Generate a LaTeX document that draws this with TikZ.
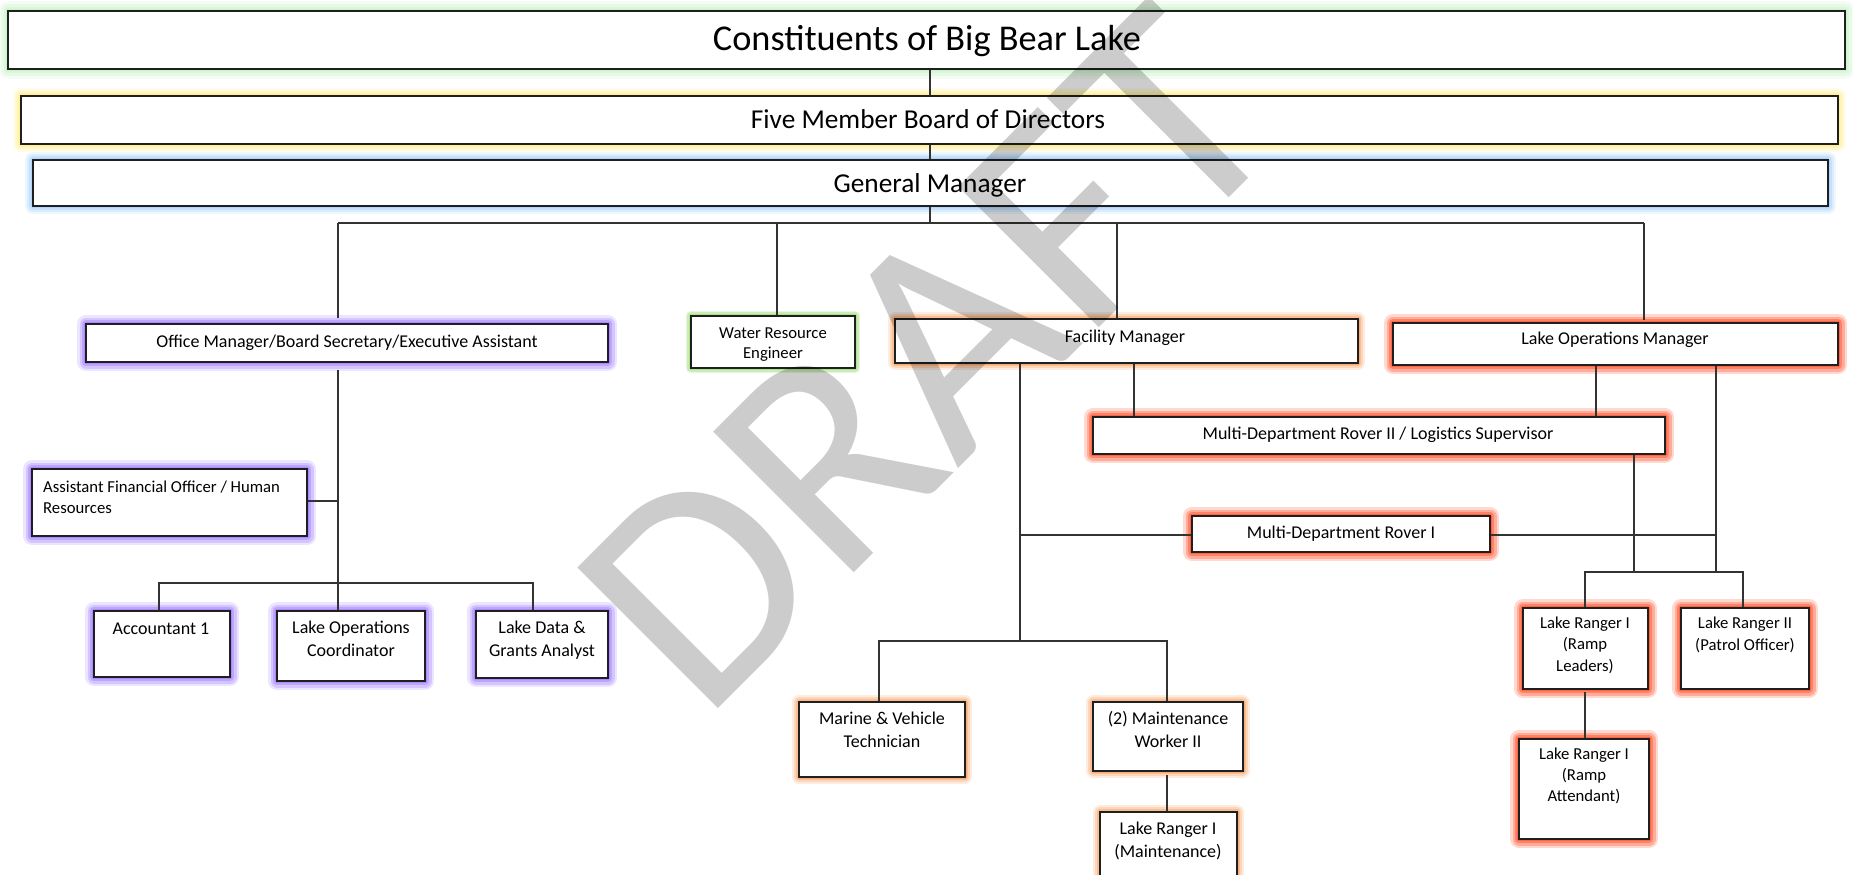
\documentclass[tikz,border=0pt]{standalone}
\usepackage{fontspec}
\setmainfont{Carlito}
\usetikzlibrary{fit}
\definecolor{ln}{HTML}{1F1F1F}
\definecolor{cn}{HTML}{333333}
\definecolor{gcons}{RGB}{185,240,185}
\definecolor{gboard}{RGB}{255,236,120}
\definecolor{ggm}{RGB}{150,200,250}
\definecolor{gpur}{RGB}{160,125,255}
\definecolor{gwat}{RGB}{140,215,100}
\definecolor{gora}{RGB}{250,160,95}
\definecolor{gred}{RGB}{255,90,55}
\tikzset{
  box/.style={draw=ln, line width=1.7pt, fill=white, inner sep=0pt, outer sep=0pt},
  conn/.style={draw=cn, line width=1.3pt},
  t18/.style={font=\fontsize{18}{22}\selectfont, anchor=base, inner sep=0pt},
  t17/.style={font=\fontsize{16.7}{20}\selectfont, anchor=base, inner sep=0pt},
}
% #1 width factor, #2 opacity factor, #3 colour, #4..#7 corners
\newcommand\glowrect[7]{%
  \foreach \w/\o in {18/0.16,13/0.24,8/0.36,4/0.5}{%
    \pgfmathsetmacro\glw{#1*\w}\pgfmathsetmacro\gop{min(1,#2*\o)}%
    \draw[#3, line width=\glw pt, opacity=\gop, line join=round] (#4,#5) rectangle (#6,#7);}%
}
\newcommand\mkbox[5]{%
  \coordinate (#1-nw) at (#2,#3); \coordinate (#1-se) at (#4,#5);
  \node[box, fit=(#1-nw)(#1-se)] (#1) {};%
}
\begin{document}
\begin{tikzpicture}[x=1pt,y=-1pt]
\path[use as bounding box] (0,0) rectangle (1853,875);
\clip (0,0) rectangle (1853,875);
\fill[white] (0,0) rectangle (1853,875);
% glows
\glowrect{1.1}{0.9}{gcons}{8}{11}{1845}{69}
\glowrect{0.9}{0.9}{gboard}{21}{96}{1838}{144}
\glowrect{0.9}{0.9}{ggm}{33}{160}{1828}{206}
\glowrect{1}{1.25}{gpur}{86}{324}{608}{362}
\glowrect{0.6}{1.3}{gwat}{691}{316}{855}{368}
\glowrect{0.75}{1.2}{gora}{895}{319}{1358}{363}
\glowrect{1}{1.45}{gred}{1393}{323}{1838}{365}
\glowrect{1}{1.25}{gpur}{32}{469}{307}{536}
\glowrect{1}{1.45}{gred}{1093}{417}{1665}{454}
\glowrect{1}{1.45}{gred}{1192}{516}{1490}{552}
\glowrect{1}{1.25}{gpur}{94}{611}{230}{677}
\glowrect{1}{1.25}{gpur}{277}{611}{425}{681}
\glowrect{1}{1.25}{gpur}{476}{611}{608}{678}
\glowrect{0.75}{1.2}{gora}{799}{702}{965}{777}
\glowrect{0.75}{1.2}{gora}{1093}{702}{1243}{771}
\glowrect{0.75}{1.2}{gora}{1100}{812}{1237}{895}
\glowrect{1}{1.45}{gred}{1523}{608}{1648}{689}
\glowrect{1}{1.45}{gred}{1681}{608}{1809}{689}
\glowrect{1}{1.45}{gred}{1519}{739}{1649}{839}
% junction coordinates
\coordinate (jtop) at (930,223);
\coordinate (jl) at (338,223);
\coordinate (jw) at (777,223);
\coordinate (jf) at (1117,223);
\coordinate (jr) at (1644,223);
\coordinate (jafo) at (338,501);
\coordinate (ja1) at (159,583);
\coordinate (ja3) at (533,583);
\coordinate (jf1) at (1020,641);
\coordinate (jm1) at (879,641);
\coordinate (jm2) at (1167,641);
\coordinate (fx2) at (1134,390);
\coordinate (jrv1) at (1020,535);
\coordinate (jrv1r) at (1716,535);
\coordinate (lx1) at (1596,390);
\coordinate (jrr) at (1716,572);
\coordinate (jrv2) at (1634,572);
\coordinate (jk1) at (1585,572);
\coordinate (jk2) at (1743,572);
% box nodes (named shapes; the visible frames are drawn later for layering)
\begin{scope}[opacity=0]
\mkbox{cons}{8}{11}{1845}{69}
\mkbox{board}{21}{96}{1838}{144}
\mkbox{gm}{33}{160}{1828}{206}
\mkbox{office}{86}{324}{608}{362}
\mkbox{water}{691}{316}{855}{368}
\mkbox{facility}{895}{319}{1358}{363}
\mkbox{lakeops}{1393}{323}{1838}{365}
\mkbox{afo}{32}{469}{307}{536}
\mkbox{rover2}{1093}{417}{1665}{454}
\mkbox{rover1}{1192}{516}{1490}{552}
\mkbox{acc}{94}{611}{230}{677}
\mkbox{loc}{277}{611}{425}{681}
\mkbox{ldga}{476}{611}{608}{678}
\mkbox{marine}{799}{702}{965}{777}
\mkbox{maint2}{1093}{702}{1243}{771}
\mkbox{lrm}{1100}{812}{1237}{895}
\mkbox{rampL}{1523}{608}{1648}{689}
\mkbox{patrol}{1681}{608}{1809}{689}
\mkbox{rampA}{1519}{739}{1649}{839}
\end{scope}
% connectors
\draw[conn] (cons.south -| jtop) -- (board.north -| jtop);
\draw[conn] (board.south -| jtop) -- (gm.north -| jtop);
\draw[conn] (gm.south -| jtop) -- (jtop);
\draw[conn] (jl) -- (jr);
\draw[conn, shorten >=6pt] (jl) -- (office.north -| jl);
\draw[conn] (jw) -- (water.north -| jw);
\draw[conn] (jf) -- (facility.north -| jf);
\draw[conn, shorten >=3pt] (jr) -- (lakeops.north -| jr);
\draw[conn, shorten <=8pt] (office.south -| jl) -- (loc.north -| jl);
\draw[conn] (afo.east |- jafo) -- (jafo);
\draw[conn] (acc.north -| ja1) -- (ja1) -- (ja3) -- (ldga.north -| ja3);
\draw[conn] (facility.south -| jf1) -- (jf1);
\draw[conn] (marine.north -| jm1) -- (jm1) -- (jm2) -- (maint2.north -| jm2);
\draw[conn, shorten <=4pt] (maint2.south -| jm2) -- (lrm.north -| jm2);
\draw[conn] (facility.south -| fx2) -- (rover2.north -| fx2);
\draw[conn] (jrv1) -- (rover1.west |- jrv1);
\draw[conn] (rover1.east |- jrv1r) -- (jrv1r);
\draw[conn] (lakeops.south -| lx1) -- (rover2.north -| lx1);
\draw[conn] (lakeops.south -| jrr) -- (jrr);
\draw[conn] (rover2.south -| jrv2) -- (jrv2);
\draw[conn] (rampL.north -| jk1) -- (jk1) -- (jk2) -- (patrol.north -| jk2);
\draw[conn, shorten <=3pt] (rampL.south -| jk1) -- (rampA.north -| jk1);
% visible box frames
\foreach \b in {cons,board,gm,office,water,facility,lakeops,afo,rover2,rover1,acc,loc,ldga,marine,maint2,lrm,rampL,patrol,rampA}{
  \path[box] (\b-nw) rectangle (\b-se);
}
% texts
\node[anchor=base, inner sep=0pt, font=\fontsize{36.3}{40}\selectfont] (cons-t) at (927,50.5) {Constituents of Big Bear Lake};
\node[anchor=base, inner sep=0pt, font=\fontsize{27.3}{30}\selectfont] (board-t) at (928,128.5) {Five Member Board of Directors};
\node[anchor=base, inner sep=0pt, font=\fontsize{27.3}{30}\selectfont] (gm-t) at (930,192) {General Manager};
\node[t18] (office-t) at (347,347) {Office Manager/Board Secretary/Executive Assistant};
\node[t17] (water-t1) at (773,338) {Water Resource};
\node[t17] (water-t2) at (773,358) {Engineer};
\node[t18] (facility-t) at (1125,342) {Facility Manager};
\node[t18] (lakeops-t) at (1615,344) {Lake Operations Manager};
\node[t17, anchor=base west] (afo-t1) at (43,492) {Assistant Financial Officer / Human};
\node[t17, anchor=base west] (afo-t2) at (43,513) {Resources};
\node[t18] (rover2-t) at (1378,439) {Multi-Department Rover II / Logistics Supervisor};
\node[t18] (rover1-t) at (1341,538) {Multi-Department Rover I};
\node[t18] (acc-t) at (161,634) {Accountant 1};
\node[t18] (loc-t1) at (351,633) {Lake Operations};
\node[t18] (loc-t2) at (351,656) {Coordinator};
\node[t18] (ldga-t1) at (542,633) {Lake Data \&};
\node[t18] (ldga-t2) at (542,656) {Grants Analyst};
\node[t18] (marine-t1) at (882,724) {Marine \& Vehicle};
\node[t18] (marine-t2) at (882,747) {Technician};
\node[t18] (maint2-t1) at (1168,724) {(2) Maintenance};
\node[t18] (maint2-t2) at (1168,747) {Worker II};
\node[t18] (lrm-t1) at (1168,834) {Lake Ranger I};
\node[t18] (lrm-t2) at (1168,857) {(Maintenance)};
\node[t17] (rampL-t1) at (1585,628) {Lake Ranger I};
\node[t17] (rampL-t2) at (1585,649) {(Ramp};
\node[t17] (rampL-t3) at (1585,671) {Leaders)};
\node[t17] (patrol-t1) at (1745,628) {Lake Ranger II};
\node[t17] (patrol-t2) at (1745,650) {(Patrol Officer)};
\node[t17] (rampA-t1) at (1584,759) {Lake Ranger I};
\node[t17] (rampA-t2) at (1584,780) {(Ramp};
\node[t17] (rampA-t3) at (1584,801) {Attendant)};
% watermark
\node[rotate=45, anchor=base, inner sep=0pt, text=black, text opacity=0.2, font=\fontsize{310}{310}\selectfont] (draft) at (998,429) {DRAFT};
\end{tikzpicture}
\end{document}
